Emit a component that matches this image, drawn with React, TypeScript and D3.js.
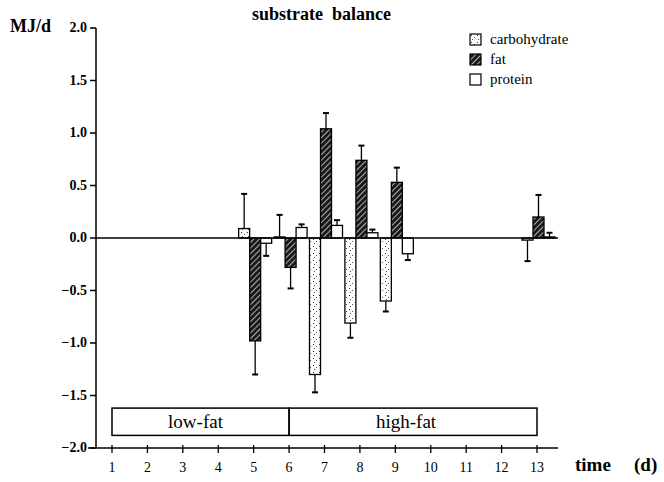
import React from 'react'
import * as d3 from 'd3'

// days that have measurements
const days = [5, 6, 7, 8, 9, 13]
const carbohydrate = [0.09, 0.01, -1.3, -0.81, -0.6, -0.02]
const carbohydrateErr = [0.33, 0.21, 0.17, 0.14, 0.1, 0.2]
const fat = [-0.98, -0.28, 1.04, 0.74, 0.53, 0.2]
const fatErr = [0.32, 0.2, 0.15, 0.14, 0.14, 0.21]
const protein = [-0.05, 0.1, 0.12, 0.05, -0.15, 0.01]
const proteinErr = [0.12, 0.03, 0.05, 0.03, 0.06, 0.04]

const seriesNames = ['carbohydrate', 'fat', 'protein']
const xTicks = [1, 2, 3, 4, 5, 6, 7, 8, 9, 10, 11, 12, 13]
const yTicks = [-2, -1.5, -1, -0.5, 0, 0.5, 1, 1.5, 2]
const periodLabels = ['low-fat', 'high-fat']
const periodStart = [1, 6]
const periodEnd = [6, 13]

const W = 664
const H = 482
const FONT = "'Liberation Serif', 'Times New Roman', 'DejaVu Serif', serif"

const fills: Record<string, string> = {
	carbohydrate: 'url(#dots)',
	fat: 'url(#hatch)',
	protein: '#fff',
}

export default function App() {
	const x = d3.scaleLinear().domain([1, 13]).range([112, 537])
	const y = d3.scaleLinear().domain([-2, 2]).range([448, 28])
	const offset = d3.scaleBand().domain(seriesNames).range([-15, 18])
	const bw = offset.bandwidth()

	const values: Record<string, number[]> = { carbohydrate, fat, protein }
	const errors: Record<string, number[]> = {
		carbohydrate: carbohydrateErr,
		fat: fatErr,
		protein: proteinErr,
	}

	const bars = seriesNames.flatMap((s) =>
		days.map((d, i) => ({
			series: s,
			day: d,
			value: values[s][i],
			err: errors[s][i],
		}))
	)

	const y0 = y(0)
	const xLeft = 96
	const xRight = 558
	const boxTop = y(-1.62)
	const boxBottom = y(-1.88)

	return (
		<svg width={W} height={H} style={{ display: 'block', background: '#fff', fontFamily: FONT }}>
			<style>{`body{margin:0}`}</style>
			<defs>
				<pattern id="hatch" width="4" height="4" patternUnits="userSpaceOnUse" patternTransform="rotate(45)">
					<rect width="4" height="4" fill="#1a1a1a" />
					<line x1="0" y1="0" x2="0" y2="4" stroke="#fff" strokeWidth="1.3" />
				</pattern>
				<pattern id="dots" width="6" height="7" patternUnits="userSpaceOnUse">
					<rect width="6" height="7" fill="#fff" />
					<rect x="1" y="1" width="1" height="1" fill="#333" />
					<rect x="4" y="3" width="1" height="1" fill="#555" />
					<rect x="2" y="5" width="1" height="1" fill="#444" />
				</pattern>
			</defs>

			{/* title */}
			<text x={252} y={20} fontSize={18} fontWeight="bold" style={{ whiteSpace: 'pre' }}>
				substrate  balance
			</text>
			<text x={10} y={32} fontSize={18} fontWeight="bold">
				MJ/d
			</text>
			<text x={575} y={471} fontSize={19} fontWeight="bold">
				time
			</text>
			<text x={634} y={471} fontSize={19} fontWeight="bold">
				(d)
			</text>

			{/* legend */}
			{seriesNames.map((s, i) => (
				<g key={s} transform={`translate(470, ${34 + i * 20})`}>
					<rect x={0} y={0} width={11} height={11} fill={fills[s]} stroke="#000" strokeWidth={1.2} />
					<text x={20} y={10} fontSize={15}>
						{s}
					</text>
				</g>
			))}

			{/* y axis */}
			<line x1={xLeft} x2={xLeft} y1={y(2)} y2={y(-2)} stroke="#000" strokeWidth={1.5} />
			{yTicks.map((t) => (
				<g key={t}>
					<line x1={xLeft - 6} x2={xLeft} y1={y(t)} y2={y(t)} stroke="#000" strokeWidth={1.5} />
					<text x={87} y={y(t) + 4} textAnchor="end" fontSize={14} fontWeight="bold">
						{d3.format('.1f')(t)}
					</text>
				</g>
			))}

			{/* x axis */}
			<line x1={xLeft - 8} x2={xRight} y1={y(-2)} y2={y(-2)} stroke="#000" strokeWidth={1.5} />
			{xTicks.map((t) => (
				<g key={t}>
					<line x1={x(t)} x2={x(t)} y1={y(-2) - 3} y2={y(-2) + 5} stroke="#000" strokeWidth={1.3} />
					<text x={x(t)} y={472} textAnchor="middle" fontSize={14}>
						{t}
					</text>
				</g>
			))}

			{/* diet periods */}
			{periodLabels.map((p, i) => (
				<g key={p}>
					<rect
						x={x(periodStart[i])}
						y={boxTop}
						width={x(periodEnd[i]) - x(periodStart[i])}
						height={boxBottom - boxTop}
						fill="none"
						stroke="#000"
						strokeWidth={1.5}
					/>
					<text
						x={(x(periodStart[i]) + x(periodEnd[i])) / 2 + (i === 0 ? -5 : -7)}
						y={(boxTop + boxBottom) / 2 + 6}
						textAnchor="middle"
						fontSize={19}
					>
						{p}
					</text>
				</g>
			))}

			{/* bars with error bars */}
			{bars.map((b) => {
				const cx = x(b.day) + (offset(b.series) ?? 0) + bw / 2
				const top = Math.min(y(b.value), y0)
				const h = Math.max(Math.abs(y(b.value) - y0), 1)
				const dir = b.value >= 0 ? 1 : -1
				const errY = y(b.value + dir * b.err)
				return (
					<g key={b.series + b.day}>
						<line x1={cx} x2={cx} y1={y(b.value)} y2={errY} stroke="#000" strokeWidth={1.3} />
						<line x1={cx - 3} x2={cx + 3} y1={errY} y2={errY} stroke="#000" strokeWidth={2} />
						<rect
							x={cx - bw / 2}
							y={top}
							width={bw}
							height={h}
							fill={fills[b.series]}
							stroke="#000"
							strokeWidth={1.3}
						/>
					</g>
				)
			})}

			{/* zero line */}
			<line x1={xLeft} x2={xRight} y1={y0} y2={y0} stroke="#000" strokeWidth={1.5} />
		</svg>
	)
}
